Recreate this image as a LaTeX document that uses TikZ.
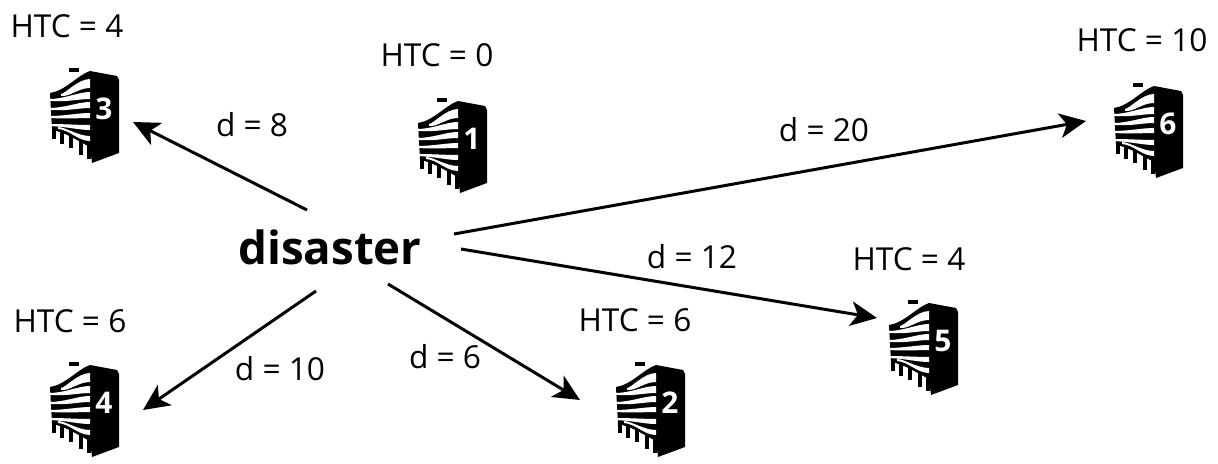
\documentclass[tikz,border=0pt]{standalone}
\usepackage{fontspec}
\setmainfont{Open Sans}
\usepackage{tikz}
\usetikzlibrary{arrows.meta}
\tikzstyle{htc}=[font=\fontsize{18}{20}\selectfont]
\tikzstyle{dist}=[font=\fontsize{18}{20}\selectfont]
\tikzstyle{hit}=[font=\fontsize{26}{30}\selectfont\bfseries]
\tikzstyle{to}=[-{Stealth[length=15pt,width=14pt,inset=4pt]},line width=1.7pt]
\tikzstyle{num}=[text=white,inner sep=0pt,font=\fontsize{17}{19}\selectfont\bfseries]
\tikzset{
    server/.pic={
        % body and fan
        \fill[black] (-40,-24) .. controls (-25,-26) and (-12,-42) .. (0,-46) -- (27,-41) -- (29,-37) -- (29,36) -- (2,46) -- (0,30)
            .. controls (-12,24) and (-25,15) .. (-38,13) -- cycle;
        \draw[line width=1.8pt] (-21,-47) -- (-11,-47);
        % gaps between the fins
        \foreach \lx/\ly/\ra/\rb in {-29/-23/-38/-29,-41/-18/-25/-18,-41/-9/-15/-9,-41/-1/-4/1,-41/7/8/13,-32/10/19/24}
            \fill[white] (\lx,\ly) .. controls (-25,\ly) and (-12,\ra) .. (0,\ra) -- (0,\rb) .. controls (-12,\rb) and (-20,{\ly+3}) .. (\lx,{\ly+2}) -- cycle;
        % teeth
        \foreach \tx/\ta/\tb in {-36/13/22,-28/15/27,-19/18/31,-9/23/38,-1/28/42}
            \draw[line width=2.6pt] (\tx,\ta) -- (\tx,\tb);
        \node[num] (-n) at (14,-8) {#1};
    }
}
\begin{document}
\begin{tikzpicture}[x=0.2mm,y=-0.2mm]
    \useasboundingbox (0,0) rectangle (1218,464);
    \node[hit] (disaster) at (330,247) {disaster};
    \pic (s3) at (90,117) {server=3};
    \pic (s1) at (458,147) {server=1};
    \pic (s6) at (1154,132) {server=6};
    \pic (s5) at (929,349) {server=5};
    \pic (s2) at (656,411) {server=2};
    \pic (s4) at (90,411) {server=4};
    \node[htc] (h3) at (67,26) {HTC = 4};
    \node[htc] (h1) at (437,55) {HTC = 0};
    \node[htc] (h6) at (1142,40) {HTC = 10};
    \node[htc] (h5) at (909,259) {HTC = 4};
    \node[htc] (h2) at (635,320) {HTC = 6};
    \node[htc] (h4) at (70,321) {HTC = 6};
    \node[dist] (d3) at (252,125) {d = 8};
    \node[dist] (d6) at (824,130) {d = 20};
    \node[dist] (d5) at (692,257) {d = 12};
    \node[dist] (d2) at (445,357) {d = 6};
    \node[dist] (d4) at (280,369) {d = 10};
    \coordinate (a3) at (307,210);
    \coordinate (a4) at (316,291);
    \coordinate (a2) at (388,284);
    \coordinate (a5) at (461,249);
    \coordinate (a6) at (454,234);
    \coordinate (b3) at (133,122);
    \coordinate (b4) at (143,410);
    \coordinate (b2) at (580,400);
    \coordinate (b5) at (877,318);
    \coordinate (b6) at (1086,121);
    \draw[to] (a3) -- (b3);
    \draw[to] (a4) -- (b4);
    \draw[to] (a2) -- (b2);
    \draw[to] (a5) -- (b5);
    \draw[to] (a6) -- (b6);
\end{tikzpicture}
\end{document}
